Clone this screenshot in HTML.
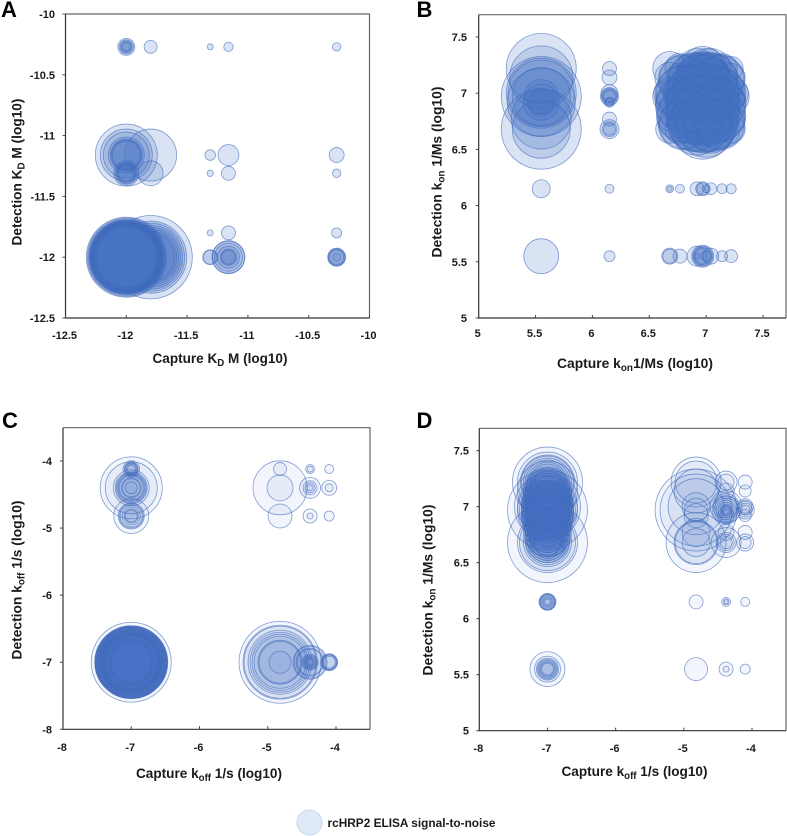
<!DOCTYPE html>
<html>
<head>
<meta charset="utf-8">
<title>rcHRP2 ELISA signal-to-noise bubble charts</title>
<style>
html,body{margin:0;padding:0;background:#fff;}
svg{display:block;}
text{font-family:"Liberation Sans",Arial,sans-serif;font-weight:bold;fill:#1a1a1a;}
.tick{font-size:11px;}
.title{font-size:14px;}
.letter{font-size:22px;fill:#000;}
</style>
</head>
<body>
<svg id="chart" xmlns="http://www.w3.org/2000/svg" width="787" height="836" viewBox="0 0 787 836">
  <rect x="0" y="0" width="787" height="836" fill="#fff"></rect>
  <g id="panels"></g>
  <g>
    <circle cx="309.5" cy="822.5" r="12.5" fill="#deeaf6" stroke="#c6d9ec" stroke-width="1"></circle>
    <text x="327.5" y="827" font-size="11.5" textLength="168" lengthAdjust="spacingAndGlyphs">rcHRP2 ELISA signal-to-noise</text>
  </g>
</svg>
<script>
/* Panel A: KD */
const aTicks = [-12.5, -12, -11.5, -11, -10.5, -10];
const aCapture = [
  -12,-12,-12,-12,-12,-11.8,-11.31,-11.16,-10.27,
  -11.8,-12,-12,-12,-12,-12,-12,-12,-11.31,-11.16,-10.27,
  -11.8,-12,-12,-12,-12,-12,-11.31,-11.16,-10.27,
  -11.31,-11.16,-10.27,
  -11.8,-11.8,-11.8,-11.8,-11.8,-11.8,-11.8,-11.8,
  -12,-12,-12,-12,-12,-12,-12,-12,-12,-12,-12,-12,-12,-12,-12,-12,-12,-12,-12,-12,
  -11.31,-11.31,
  -11.16,-11.16,-11.16,-11.16,-11.16,-11.16,
  -10.27,-10.27,-10.27,-10.27,-10.27
];
const aDetection = [
  -10.27,-10.27,-10.27,-10.27,-10.27,-10.27,-10.27,-10.27,-10.27,
  -11.16,-11.16,-11.16,-11.16,-11.16,-11.16,-11.16,-11.16,-11.16,-11.16,-11.16,
  -11.31,-11.31,-11.31,-11.31,-11.31,-11.31,-11.31,-11.31,-11.31,
  -11.8,-11.8,-11.8,
  -12,-12,-12,-12,-12,-12,-12,-12,
  -12,-12,-12,-12,-12,-12,-12,-12,-12,-12,-12,-12,-12,-12,-12,-12,-12,-12,-12,-12,
  -12,-12,
  -12,-12,-12,-12,-12,-12,
  -12,-12,-12,-12,-12
];
const aSignal = [
  72,50,36,25,16,42,9,22,18,
  676,961,676,529,324,256,225,196,28,110,56,
  156,156,121,100,81,64,10,49,18,
  9,49,25,
  1740,1296,1156,1024,900,784,676,576,
  1600,1521,1444,1369,1369,1296,1296,1296,1225,1225,1225,1156,1156,1156,1089,1089,1024,1024,961,900,
  56,49,
  272,256,196,121,64,49,
  81,72,64,49,16
];

/* Panel B: kon vs kon */
const bTicks = [5, 5.5, 6, 6.5, 7, 7.5];
const bCapture = [
  5.55,5.55,5.55,5.55,5.55,5.55,5.55,5.55,5.55,5.55,5.55,5.55,5.55,5.55,5.55,5.55,
  6.15,6.15,6.15,6.15,6.15,6.15,6.15,6.15,6.15,6.15,6.15,6.15,6.15,6.15,6.15,
  6.68,6.77,6.92,6.97,7,7.04,7.14,7.22,
  6.68,6.77,6.92,6.97,7,7.04,7.14,7.22,
  6.68,6.77,6.92,6.97,7,7.04,7.14,7.22,
  6.68,6.77,6.92,6.97,7,7.04,7.14,7.22,
  6.68,6.77,6.92,6.97,7,7.04,7.14,7.22,
  6.68,6.77,6.92,6.97,7,7.04,7.14,7.22,
  6.68,6.77,6.92,6.97,7,7.04,7.14,7.22,
  6.92,6.97,7,7.04,
  6.92,6.97,7,7.04,
  6.92,6.97,7,7.04,
  6.92,6.97,7,7.04,
  6.68,6.68,6.77,6.92,6.97,6.97,7,7.04,7.14,7.22,
  6.68,6.68,6.77,6.92,6.92,6.97,6.97,6.97,6.97,7,7.04,7.14,7.22,
  6.8,6.9,6.97,7.04,7.12,
  6.8,6.9,6.97,7.04,7.12,
  6.8,6.9,6.97,7.04,7.12,
  6.8,6.9,6.97,7.04,7.12,
  6.8,6.9,6.97,7.04,7.12,
  6.8,6.9,6.97,7.04,7.12,
  6.8,6.9,6.97,7.04,7.12,
  6.8,6.9,6.97,7.04,7.12,
  6.8,6.9,6.97,7.04,7.12,
  6.8,6.9,6.97,7.04,7.12
];
const bDetection = [
  7.22,7.14,7,6.97,6.97,6.92,6.97,6.92,6.92,6.77,6.68,6.68,6.92,7,6.15,5.55,
  7.22,7.14,7,6.97,6.97,6.97,6.97,6.92,6.77,6.68,6.68,6.68,6.15,5.55,6.92,
  7.22,7.22,7.22,7.22,7.22,7.22,7.22,7.22,
  7.14,7.14,7.14,7.14,7.14,7.14,7.14,7.14,
  7,7,7,7,7,7,7,7,
  6.97,6.97,6.97,6.97,6.97,6.97,6.97,6.97,
  6.92,6.92,6.92,6.92,6.92,6.92,6.92,6.92,
  6.77,6.77,6.77,6.77,6.77,6.77,6.77,6.77,
  6.68,6.68,6.68,6.68,6.68,6.68,6.68,6.68,
  7.14,7.14,7.14,7.14,
  7,7,7,7,
  6.97,6.97,6.97,6.97,
  6.77,6.77,6.77,6.77,
  6.15,6.15,6.15,6.15,6.15,6.15,6.15,6.15,6.15,6.15,
  5.55,5.55,5.55,5.55,5.55,5.55,5.55,5.55,5.55,5.55,5.55,5.55,5.55,
  7.12,7.12,7.12,7.12,7.12,
  7,7,7,7,7,
  6.9,6.9,6.9,6.9,6.9,
  6.8,6.8,6.8,6.8,6.8,
  6.72,6.72,6.72,6.72,6.72,
  7.12,7.12,7.12,7.12,7.12,
  7,7,7,7,7,
  6.9,6.9,6.9,6.9,6.9,
  6.8,6.8,6.8,6.8,6.8,
  6.72,6.72,6.72,6.72,6.72
];
const bSignal = [
  1225,1000,1225,1600,841,1156,289,196,144,900,1600,841,324,1100,81,306,
  49,56,72,81,64,49,36,25,49,90,56,36,20,30,16,
  289,225,400,484,400,400,225,144,
  225,196,400,576,484,400,256,196,
  256,289,625,676,625,576,400,289,
  289,256,676,784,676,625,484,324,
  196,225,576,676,576,484,324,225,
  144,169,484,576,576,400,256,196,
  196,225,676,900,784,576,324,196,
  484,529,484,400,
  576,625,576,484,
  576,625,576,484,
  484,529,484,400,
  16,6,20,49,49,36,16,36,25,25,
  64,49,49,9,100,121,100,81,64,25,64,30,42,
  625,729,784,729,625,
  784,841,900,841,676,
  784,841,900,841,676,
  729,841,900,841,676,
  625,729,784,729,625,
  576,676,729,676,576,
  729,784,841,784,625,
  729,784,841,784,625,
  676,784,841,784,625,
  576,676,729,676,576
];

/* Panel C: koff vs koff */
const cTicks = [-8, -7, -6, -5, -4];
const cCapture = [
  -7,-7,-7,-7,-7,-7,
  -7,-7,-7,-7,-7,-7,-7,-7,-7,-7,-7,
  -7,-7,-7,-7,-7,-7,-7,
  -7,-7,-7,-7,-7,-7,-7,-7,-7,-7,-7,-7,-7,-7,-7,-7,-7,-7,-7,-7,-7,-7,-7,-7,-7,-7,-7,-7,-7,-7,-7,-7,-7,-7,-7,-7,
  -7,-7,-7,-7,-7,-7,
  -4.82,-4.82,-4.82,-4.82,
  -4.82,-4.82,-4.82,-4.82,-4.82,-4.82,-4.82,-4.82,-4.82,-4.82,
  -4.38,-4.38,-4.38,-4.38,-4.38,-4.38,-4.38,-4.38,
  -4.38,-4.38,-4.38,-4.38,-4.38,-4.38,-4.38,-4.38,-4.38,-4.38,
  -4.1,-4.1,-4.1,-4.1,
  -4.1,-4.1,-4.1,-4.1,-4.1
];
const cDetection = [
  -4.12,-4.12,-4.12,-4.12,-4.12,-4.12,
  -4.4,-4.4,-4.4,-4.4,-4.4,-4.4,-4.4,-4.4,-4.4,-4.4,-4.4,
  -4.82,-4.82,-4.82,-4.82,-4.82,-4.82,-4.82,
  -7,-7,-7,-7,-7,-7,-7,-7,-7,-7,-7,-7,-7,-7,-7,-7,-7,-7,-7,-7,-7,-7,-7,-7,-7,-7,-7,-7,-7,-7,-7,-7,-7,-7,-7,-7,
  -7,-7,-7,-7,-7,-7,
  -4.12,-4.4,-4.4,-4.82,
  -7,-7,-7,-7,-7,-7,-7,-7,-7,-7,
  -4.12,-4.12,-4.4,-4.4,-4.4,-4.4,-4.82,-4.82,
  -7,-7,-7,-7,-7,-7,-7,-7,-7,-7,
  -4.12,-4.4,-4.4,-4.82,
  -7,-7,-7,-7,-7
];
const cSignal = [
  70,49,42,36,25,16,
  961,676,324,256,225,196,169,144,100,81,36,
  306,169,144,121,81,49,36,
  1600,1332,1296,1296,1296,1296,1225,1225,1225,1225,1156,1156,1156,1156,1089,1089,1089,1024,1024,1024,961,961,961,900,900,900,841,841,841,784,784,784,729,729,729,676,
  625,576,529,484,441,400,
  42,729,169,144,
  1681,1369,1296,1024,900,784,676,484,441,121,
  20,9,110,49,25,9,49,9,
  289,256,196,169,64,49,36,25,16,9,
  20,56,16,25,
  72,64,56,49,36
];

/* Panel D: koff vs kon */
const dTicksX = [-8, -7, -6, -5, -4];
const dTicksY = [5, 5.5, 6, 6.5, 7, 7.5];
const dCapture = [
  -7,-7,-7,-7,-7,-7,-7,-7,
  -7,-7,-7,-7,-7,-7,
  -7,-7,-7,-7,-7,-7,-7,
  -7,-7,-7,-7,-7,-7,-7,-7,-7,
  -7,-7,-7,-7,
  -7,-7,-7,-7,-7,
  -7,-7,-7,-7,-7,-7,-7,-7,-7,-7,
  -7,-7,-7,-7,-7,-7,-7,-7,
  -7,-7,-7,-7,-7,-7,-7,-7,
  -7,-7,-7,-7,-7,-7,-7,-7,-7,-7,
  -7,-7,-7,-7,-7,-7,-7,-7,-7,-7,
  -7,-7,-7,-7,-7,-7,-7,-7,-7,-7,
  -4.82,-4.82,-4.82,-4.82,-4.82,-4.82,-4.82,-4.82,-4.82,-4.82,-4.82,-4.82,-4.82,-4.82,-4.82,-4.82,
  -4.38,-4.38,-4.38,-4.38,-4.38,-4.38,-4.38,-4.38,-4.38,-4.38,-4.38,-4.38,-4.38,-4.38,-4.38,-4.38,-4.38,-4.38,-4.38,-4.38,-4.38,-4.38,-4.38,-4.38,-4.38,
  -4.1,-4.1,-4.1,-4.1,-4.1,-4.1,-4.1,-4.1,-4.1,-4.1,-4.1,-4.1,-4.1
];
const dDetection = [
  7.22,7.22,7.22,7.22,7.22,7.22,7.22,7.22,
  7.14,7.14,7.14,7.14,7.14,7.14,
  7,7,7,7,7,7,7,
  6.97,6.97,6.97,6.97,6.97,6.97,6.97,6.97,6.97,
  6.92,6.92,6.92,6.92,
  6.77,6.77,6.77,6.77,6.77,
  6.68,6.68,6.68,6.68,6.68,6.68,6.68,6.68,6.68,6.68,
  6.15,6.15,6.15,6.15,6.15,6.15,6.15,6.15,
  5.55,5.55,5.55,5.55,5.55,5.55,5.55,5.55,
  7.1,7.05,7,6.95,6.9,6.85,6.8,6.75,7.15,6.7,
  7.1,7.05,7,6.95,6.9,6.85,6.8,6.75,7.15,6.7,
  7.1,7.05,7,6.95,6.9,6.85,6.8,6.75,7.15,6.7,
  7.22,7.22,7.14,6.97,6.97,7,7,6.97,6.92,6.77,6.68,6.68,6.68,6.68,6.15,5.55,
  7.22,7.22,7.14,7,7,7,6.97,6.97,6.97,6.97,6.97,6.97,6.97,6.92,6.92,6.77,6.68,6.68,6.68,6.68,6.15,6.15,6.15,5.55,5.55,
  7.22,7.14,7,7,6.97,6.97,6.97,6.92,6.77,6.68,6.68,6.15,5.55
];
const dSignal = [
  1225,900,729,676,576,484,400,324,
  900,576,484,400,324,256,
  1089,900,676,576,484,400,324,
  1600,900,784,676,576,484,400,324,256,
  676,484,400,324,
  576,400,324,256,196,
  1600,900,784,576,484,400,324,256,196,169,
  72,64,56,49,36,25,16,9,
  306,169,121,100,81,64,49,36,
  400,441,484,484,441,400,361,324,324,324,
  484,529,576,576,529,484,441,400,400,400,
  576,625,676,676,625,576,529,484,484,484,
  625,441,484,1681,1296,784,196,144,144,196,900,484,441,196,49,132,
  121,64,64,256,169,121,196,144,100,64,36,25,16,64,36,64,225,100,64,36,20,9,4,49,9,
  49,36,64,42,81,49,25,36,49,72,36,20,25
];

const NS = 'http://www.w3.org/2000/svg';
const panelsRoot = document.getElementById('panels');

function linear(d0, p0, d1, p1) {
  return function (v) { return p0 + (v - d0) * (p1 - p0) / (d1 - d0); };
}
function radius(signal) { return Math.sqrt(signal); }
function mk(tag, parent) {
  const el = document.createElementNS(NS, tag);
  parent.appendChild(el);
  return el;
}
function titleText(parent, parts, x, y, len, rotate, name) {
  const t = mk('text', parent);
  
  
  t.setAttribute('class', 'title');
  t.setAttribute('text-anchor', 'middle');
  t.setAttribute('textLength', len);
  t.setAttribute('lengthAdjust', 'spacingAndGlyphs');
  t.setAttribute('x', x);
  t.setAttribute('y', y);
  if (rotate) t.setAttribute('transform', 'rotate(-90 ' + x + ' ' + y + ')');
  parts.forEach(function (p) {
    const s = mk('tspan', t);
    s.textContent = p[0];
    if (p[1]) {
      s.setAttribute('font-size', '10');
      s.setAttribute('dy', '3');
    } else if (p[2]) {
      s.setAttribute('dy', '-3');
    }
  });
}
function drawPanel(cfg) {
  const g = mk('g', panelsRoot);
  
  
  const sx = linear(cfg.xd[0], cfg.xp[0], cfg.xd[1], cfg.xp[1]);
  const sy = linear(cfg.yd[0], cfg.yp[0], cfg.yd[1], cfg.yp[1]);
  const L = cfg.box[0], R = cfg.box[1], T = cfg.box[2], B = cfg.box[3];

  const bubbles = mk('g', g);
  
  
  cfg.signal.forEach(function (s, i) {
    const c = mk('circle', bubbles);
    
    
    c.setAttribute('cx', sx(cfg.capture[i]).toFixed(2));
    c.setAttribute('cy', sy(cfg.detection[i]).toFixed(2));
    c.setAttribute('r', radius(s).toFixed(2));
    c.setAttribute('fill', 'rgba(68,114,196,' + cfg.alpha + ')');
    c.setAttribute('stroke', 'rgba(64,106,188,0.65)');
    c.setAttribute('stroke-width', '0.8');
  });

  const frameTR = mk('path', g);
  
  
  frameTR.setAttribute('d', 'M' + L + ' ' + T + 'H' + R + 'V' + B);
  frameTR.setAttribute('fill', 'none');
  frameTR.setAttribute('stroke', '#666');
  frameTR.setAttribute('stroke-width', '1.2');
  const frameLB = mk('path', g);
  
  
  frameLB.setAttribute('d', 'M' + L + ' ' + T + 'V' + B + 'H' + R);
  frameLB.setAttribute('fill', 'none');
  frameLB.setAttribute('stroke', '#333');
  frameLB.setAttribute('stroke-width', '1.2');

  cfg.xTicks.forEach(function (v) {
    const px = sx(v);
    const m = mk('line', g);
    
    
    m.setAttribute('x1', px);
    m.setAttribute('x2', px);
    m.setAttribute('y1', B);
    m.setAttribute('y2', B - 3);
    m.setAttribute('stroke', '#444');
    const t = mk('text', g);
    
    
    t.setAttribute('class', 'tick');
    t.setAttribute('text-anchor', 'middle');
    t.setAttribute('x', px - 1);
    t.setAttribute('y', cfg.xLabelY);
    t.textContent = String(v);
  });
  cfg.yTicks.forEach(function (v) {
    const py = sy(v);
    const m = mk('line', g);
    
    
    m.setAttribute('x1', L);
    m.setAttribute('x2', L - 3);
    m.setAttribute('y1', py);
    m.setAttribute('y2', py);
    m.setAttribute('stroke', '#444');
    const t = mk('text', g);
    
    
    t.setAttribute('class', 'tick');
    t.setAttribute('text-anchor', 'end');
    t.setAttribute('x', cfg.yLabelX);
    t.setAttribute('y', py + 4);
    t.textContent = String(v);
  });
  titleText(g, cfg.xTitle[0], cfg.xTitle[1], cfg.xTitle[2], cfg.xTitle[3], false, 'x-axis-title-' + cfg.id);
  titleText(g, cfg.yTitle[0], cfg.yTitle[1], cfg.yTitle[2], cfg.yTitle[3], true, 'y-axis-title-' + cfg.id);
  const letter = mk('text', g);
  
  
  letter.setAttribute('class', 'letter');
  letter.setAttribute('x', cfg.letter[1]);
  letter.setAttribute('y', cfg.letter[2]);
  letter.textContent = cfg.letter[0];
}

drawPanel({
  id: 'a', capture: aCapture, detection: aDetection, signal: aSignal, alpha: 0.2,
  xd: [-12.5, -10], xp: [65.5, 369.5], yd: [-12.5, -10], yp: [318, 14],
  box: [65.5, 369.5, 14, 318], xTicks: aTicks, yTicks: aTicks, xLabelY: 339, yLabelX: 55,
  xTitle: [[['Capture K'], ['D', true], [' M (log10)', false, true]], 220, 363, 135],
  yTitle: [[['Detection K'], ['D', true], [' M (log10)', false, true]], 21.5, 172, 147],
  letter: ['A', 1, 17]
});
drawPanel({
  id: 'b', capture: bCapture, detection: bDetection, signal: bSignal, alpha: 0.2,
  xd: [5, 7.5], xp: [478.7, 763], yd: [5, 7.5], yp: [318, 37],
  box: [478.7, 786, 14.7, 318], xTicks: bTicks, yTicks: bTicks, xLabelY: 337, yLabelX: 467,
  xTitle: [[['Capture k'], ['on', true], ['1/Ms (log10)', false, true]], 635, 368, 156],
  yTitle: [[['Detection k'], ['on', true], [' 1/Ms (log10)', false, true]], 441.5, 172, 171],
  letter: ['B', 416.5, 17]
});
drawPanel({
  id: 'c', capture: cCapture, detection: cDetection, signal: cSignal, alpha: 0.07,
  xd: [-8, -4], xp: [63, 336], yd: [-8, -4], yp: [729.3, 461],
  box: [63, 370, 427.7, 729.3], xTicks: cTicks, yTicks: cTicks, xLabelY: 751, yLabelX: 52,
  xTitle: [[['Capture k'], ['off', true], [' 1/s (log10)', false, true]], 209, 778, 146],
  yTitle: [[['Detection k'], ['off', true], [' 1/s (log10)', false, true]], 21.5, 580, 159],
  letter: ['C', 2, 428]
});
drawPanel({
  id: 'd', capture: dCapture, detection: dDetection, signal: dSignal, alpha: 0.07,
  xd: [-8, -4], xp: [479.3, 752], yd: [5, 7.5], yp: [730.7, 450.7],
  box: [479.3, 786, 428.3, 730.7], xTicks: dTicksX, yTicks: dTicksY, xLabelY: 752, yLabelX: 469,
  xTitle: [[['Capture k'], ['off', true], [' 1/s (log10)', false, true]], 634.5, 776, 146],
  yTitle: [[['Detection k'], ['on', true], [' 1/Ms (log10)', false, true]], 432.5, 590, 171],
  letter: ['D', 416.5, 428]
});
</script>
</body>
</html>
